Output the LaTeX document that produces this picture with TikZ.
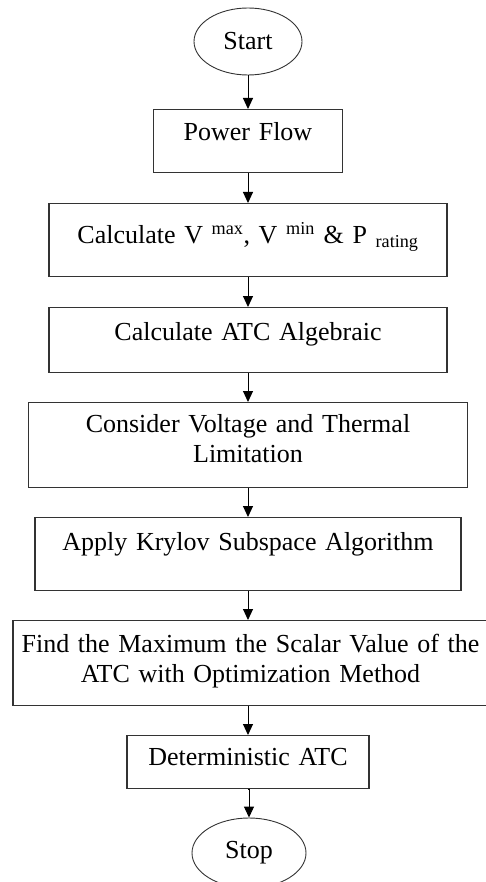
\documentclass[tikz,border=0pt]{standalone}
\usepackage{fontspec}
\setmainfont{Liberation Serif}
\usepackage{tikz}
\usetikzlibrary{arrows.meta, shapes.geometric}

\begin{document}
\begin{tikzpicture}[x=1pt, y=-1pt,
      font=\fontsize{26}{30}\selectfont,
      term/.style={ellipse, draw=black!80, line width=0.9pt, inner sep=0pt},
      box/.style={draw=black!80, line width=1.1pt, anchor=north, align=center, inner sep=0pt},
      arr/.style={-{Triangle[length=11pt, width=10pt]}, line width=1pt, black}]
    \useasboundingbox (0,0) rectangle (486,882);
    \node[term, minimum width=108pt, minimum height=67pt] (start) at (248,41.5) {Start};
    \node[box, text width=189pt, text height=31pt, text depth=32pt] (flow) at (248,109) {Power Flow};
    \node[box, text width=398pt, text height=40pt, text depth=33pt] (calcv) at (248,203)
      {Calculate V \textsuperscript{max}, V \textsuperscript{min} \& P \textsubscript{rating}};
    \node[box, text width=398pt, text height=33pt, text depth=32pt] (atc) at (248,307) {Calculate ATC Algebraic};
    \node[box, text width=439pt, text height=30pt, text depth=55pt] (limit) at (248,402)
      {Consider Voltage and Thermal\\Limitation};
    \node[box, text width=426pt, text height=33pt, text depth=40pt] (krylov) at (248,517) {Apply Krylov Subspace Algorithm};
    \node[box, text width=475pt, text height=32pt, text depth=53pt] (optim) at (250.5,620)
      {Find the Maximum the Scalar Value of the\\ATC with Optimization Method};
    \node[box, text width=242pt, text height=30pt, text depth=23pt] (determ) at (248,735) {Deterministic ATC};
    \node[term, minimum width=114pt, minimum height=70pt] (stop) at (249,853) {Stop};
    \draw[arr] (start) -- (flow);
    \draw[arr] (flow) -- (calcv);
    \draw[arr] (calcv) -- (atc);
    \draw[arr] (atc) -- (limit);
    \draw[arr] (limit) -- (krylov);
    \draw[arr] (krylov) -- (krylov |- optim.north);
    \draw[arr] (determ |- optim.south) -- (determ);
    \draw[arr] (determ.south) -- (determ.south -| stop.north) -- (stop);
  \end{tikzpicture}
\end{document}
